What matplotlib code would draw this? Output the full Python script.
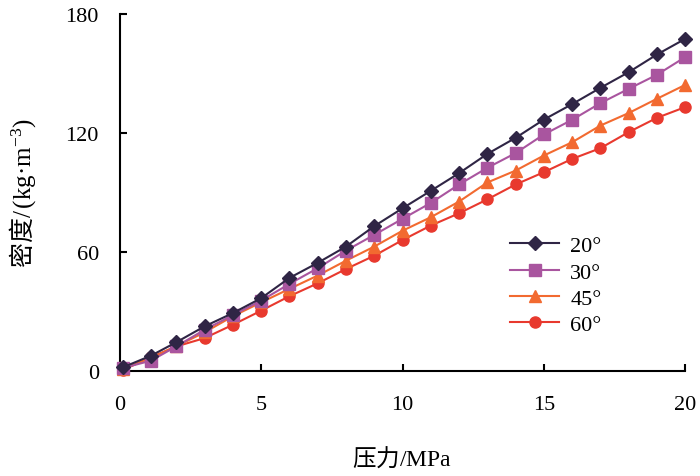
import matplotlib
matplotlib.use('Agg')
import matplotlib.pyplot as plt

plt.rcParams['font.family'] = ['Liberation Serif', 'Noto Sans CJK SC', 'DejaVu Sans']
plt.rcParams['mathtext.fontset'] = 'custom'
plt.rcParams['mathtext.rm'] = 'Liberation Serif'
plt.rcParams['mathtext.it'] = 'Liberation Serif:italic'

# pressure (MPa)
pressure = [0.1, 1.1, 2, 3, 4, 5, 6, 7, 8, 9, 10,
            11, 12, 13, 14, 15, 16, 17, 18, 19, 20]

# density (kg/m3) at each angle
rho_20 = [1.8, 7.7, 14.5, 22.5, 29.2, 36.7, 46.9, 54.5, 62.7, 73.0, 82.0,
          90.8, 99.7, 109.4, 117.5, 126.7, 134.5, 142.7, 150.6, 159.5, 167.4]
rho_30 = [1.5, 5.2, 12.4, 20.8, 28.2, 35.5, 43.9, 51.8, 60.7, 68.6, 76.7,
          84.7, 94.0, 102.4, 109.8, 119.2, 126.6, 135.0, 142.2, 149.3, 158.2]
rho_45 = [1.0, 6.5, 12.5, 19.5, 27.6, 34.6, 41.4, 48.1, 55.6, 62.7, 70.7,
          77.5, 85.4, 95.0, 101.0, 108.6, 115.3, 123.7, 130.0, 137.2, 144.2]
rho_60 = [0.5, 6.9, 12.4, 16.6, 23.3, 30.4, 37.7, 44.2, 51.4, 58.1, 66.0,
          73.3, 79.5, 86.5, 94.0, 100.2, 106.9, 112.3, 120.4, 127.6, 133.0]

labels = ['20°', '30°', '45°', '60°']

fig = plt.figure(figsize=(7, 4.77), dpi=100)
ax = fig.add_axes([0.171, 0.22, 0.808, 0.749])

ax.plot(pressure, rho_20, color='#2f2545', marker='D', ms=7, lw=1.5,
        label=labels[0], clip_on=False, zorder=5)
ax.plot(pressure, rho_30, color='#a9559f', marker='s', ms=8, lw=1.5,
        label=labels[1], clip_on=False, zorder=4)
ax.plot(pressure, rho_45, color='#f26a30', marker='^', ms=9, lw=1.5,
        label=labels[2], clip_on=False, zorder=3)
ax.plot(pressure, rho_60, color='#e8392e', marker='o', ms=8, lw=1.5,
        label=labels[3], clip_on=False, zorder=2)

ax.set_xlim(0, 20)
ax.set_ylim(0, 180)
ax.set_xticks([0, 5, 10, 15, 20])
ax.set_yticks([0, 60, 120, 180])

ax.spines['top'].set_visible(False)
ax.spines['right'].set_visible(False)
ax.spines['left'].set_linewidth(1.5)
ax.spines['bottom'].set_linewidth(1.5)
ax.tick_params(direction='in', length=5, width=1.5, labelsize=16)
ax.tick_params(axis='x', pad=17)
ax.tick_params(axis='y', pad=15)

ax.set_xlabel('压力$\\mathrm{/MPa}$', fontsize=17, family='Noto Sans CJK SC',
              labelpad=22)
ax.set_ylabel('密度$\\mathrm{/\\,(kg·m^{-3})}$', fontsize=18,
              family='Noto Sans CJK SC', labelpad=20)

ax.legend(loc='upper left', bbox_to_anchor=(0.655, 0.435), frameon=False,
          fontsize=16, handlelength=2.2, handletextpad=0.5, labelspacing=0.26)

fig.savefig('out.png', dpi=100)
